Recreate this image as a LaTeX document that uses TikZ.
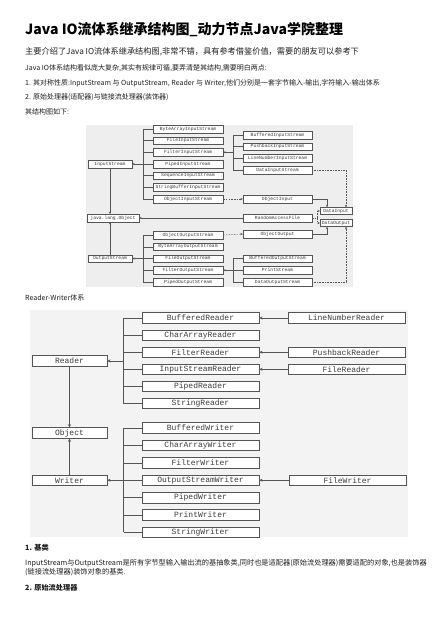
\documentclass[tikz,border=0pt]{standalone}
\usepackage{fontspec}
\setmainfont{Noto Sans CJK SC}
\newfontfamily\boxfont{Liberation Mono}
\usetikzlibrary{arrows.meta,positioning}
\definecolor{ink}{RGB}{30,30,30}
\definecolor{edge}{RGB}{85,85,85}
\definecolor{boxink}{RGB}{60,60,60}
\definecolor{panel}{RGB}{238,238,238}
\definecolor{panelb}{RGB}{243,243,243}
\tikzset{
  sm/.style={draw=edge,fill=white,line width=0.4pt,minimum width=70pt,minimum height=7.5pt,inner sep=0pt,text=boxink,font=\boxfont\fontsize{4.7}{5}\selectfont},
  lg/.style={draw=edge,fill=white,line width=0.6pt,minimum width=117pt,minimum height=10.5pt,inner sep=0pt,text=boxink,font=\boxfont\fontsize{8}{9}\selectfont},
  txt/.style={anchor=west,inner sep=0pt,text=ink,font=\fontsize{7}{9}\selectfont},
  ln/.style={draw=edge,line width=0.4pt},
  arr/.style={-{Stealth[length=2.4pt,width=2.2pt]},draw=edge,line width=0.4pt},
  darr/.style={arr,dash pattern=on 1.5pt off 1.2pt},
  barr/.style={-{Stealth[length=3.2pt,width=3pt]},draw=edge,line width=0.6pt}
}
\begin{document}
\begin{tikzpicture}[x=1pt,y=-1pt]
\useasboundingbox (0,0) rectangle (440,620);
% text above
\node[txt,font=\fontsize{14}{16}\selectfont\bfseries,text=black] (ttl) at (25,30) {Java IO流体系继承结构图\_动力节点Java学院整理};
\node[txt,font=\fontsize{8.2}{10}\selectfont] (t1) at (25,52) {主要介绍了Java IO流体系继承结构图,非常不错，具有参考借鉴价值，需要的朋友可以参考下};
\node[txt] (t2) at (25,68) {Java IO体系结构看似庞大复杂,其实有规律可循,要弄清楚其结构,需要明白两点:};
\node[txt] (t3) at (25,83) {1. 其对称性质:InputStream 与 OutputStream, Reader 与 Writer,他们分别是一套字节输入-输出,字符输入-输出体系};
\node[txt] (t4) at (25,97) {2. 原始处理器(适配器)与链接流处理器(装饰器)};
\node[txt] (t5) at (25,112) {其结构图如下:};

% stream panel
\fill[panel] (86,125) rectangle (353,287);
\node[sm,minimum width=44pt] (is) at (110,164) {InputStream};
\node[sm,minimum width=52pt] (jlo) at (113,218) {java.lang.Object};
\node[sm,minimum width=44pt] (os) at (110,258.5) {OutputStream};
\node[sm] (bais) at (188,129) {ByteArrayInputStream};
\node[sm] (fis) at (188,140.7) {FileInputStream};
\node[sm] (fltis) at (188,152.3) {FilterInputStream};
\node[sm] (pis) at (188,164) {PipedInputStream};
\node[sm] (sis) at (188,175.7) {SequenceInputStream};
\node[sm] (sbis) at (188,187.3) {StringBufferInputStream};
\node[sm] (ois) at (188,199) {ObjectInputStream};
\node[sm,minimum width=69pt] (bis) at (277.5,135) {BufferedInputStream};
\node[sm,minimum width=69pt] (pbis) at (277.5,146.7) {PushbackInputStream};
\node[sm,minimum width=69pt] (lnis) at (277.5,158.3) {LineNumberInputStream};
\node[sm,minimum width=69pt] (dis) at (277.5,170) {DataInputStream};
\node[sm,minimum width=69pt] (oi) at (277.5,199) {ObjectInput};
\node[sm,minimum width=69pt] (raf) at (277.5,218) {RandomAccessFile};
\node[sm,minimum width=69pt] (oo) at (277.5,234) {ObjectOutput};
\node[sm,minimum width=32pt,minimum height=7pt] (di) at (336,211) {DataInput};
\node[sm,minimum width=32pt,minimum height=7pt] (dout) at (336,223) {DataOutput};
\node[sm] (oos) at (188,235) {ObjectOutputStream};
\node[sm] (baos) at (188,246.75) {ByteArrayOutputStream};
\node[sm] (fos) at (188,258.5) {FileOutputStream};
\node[sm] (fltos) at (188,270.25) {FilterOutputStream};
\node[sm] (pos) at (188,282) {PipedOutputStream};
\node[sm,minimum width=69pt] (bos) at (277.5,258.5) {BufferedOutputStream};
\node[sm,minimum width=69pt] (ps) at (277.5,270.25) {PrintStream};
\node[sm,minimum width=69pt] (dos) at (277.5,282) {DataOutputStream};
\foreach \c in {bais,fis,fltis,pis,sis,sbis,ois,oos,baos,fos,fltos,pos,bis,pbis,lnis,dis,bos,ps,dos}
  \draw[ln] (\c.west) -- ++(-10,0);
\draw[ln] ([xshift=-10pt]bais.west) -- ([xshift=-10pt]ois.west);
\draw[ln] ([xshift=-10pt]oos.west) -- ([xshift=-10pt]pos.west);
\draw[ln] ([xshift=-10pt]bis.west) -- ([xshift=-10pt]dis.west);
\draw[ln] ([xshift=-10pt]bos.west) -- ([xshift=-10pt]dos.west);
\draw[arr] ([xshift=-10pt]pis.west) -- (is.east);
\draw[arr] ([xshift=-10pt]fos.west) -- (os.east);
\draw[arr] ([xshift=-10pt]bis.west |- fltis.east) -- (fltis.east);
\draw[arr] ([xshift=-10pt]bos.west |- fltos.east) -- (fltos.east);
\draw[arr] (is.south) -- (is.south |- jlo.north);
\draw[arr] (os.north) -- (os.north |- jlo.south);
\draw[arr] (raf.west) -- (jlo.east);
\draw[darr] (ois.east) -- (oi.west);
\draw[darr] (oos.east) -- (oo.west);
\draw[arr] (oi.east) -| ([xshift=-9pt]di.north);
\draw[arr] (oo.east) -| ([xshift=-9pt]dout.south);
\draw[darr] (raf.east) -- ++(5,0) coordinate (rj) |- (di.west);
\draw[darr] (rj) |- (dout.west);
\draw[darr,dash pattern=on 0.8pt off 0.8pt] (dis.east) -| ([xshift=10pt]di.north);
\draw[darr,dash pattern=on 0.8pt off 0.8pt] (dos.east) -| ([xshift=10pt]dout.south);

\node[txt] (t6) at (25,298) {Reader-Writer体系};

% reader / writer panel
\begin{scope}
\clip (30,310) rectangle (408,537);
\fill[panelb] (30,310) rectangle (408,537);
\node[lg,minimum width=75pt] (rd) at (69.5,361) {Reader};
\node[lg,minimum width=75pt] (obj) at (69.5,433) {Object};
\node[lg,minimum width=75pt] (wr) at (69.5,480.2) {Writer};
\node[lg] (br) at (200.5,318) {BufferedReader};
\node[lg] (car) at (200.5,335.1) {CharArrayReader};
\node[lg] (fr) at (200.5,352.2) {FilterReader};
\node[lg] (isr) at (200.5,369.3) {InputStreamReader};
\node[lg] (pr) at (200.5,386.4) {PipedReader};
\node[lg] (sr) at (200.5,403.5) {StringReader};
\node[lg] (lnr) at (346.5,318) {LineNumberReader};
\node[lg] (pbr) at (346.5,352.2) {PushbackReader};
\node[lg] (flr) at (346.5,369.3) {FileReader};
\node[lg] (bw) at (200.5,428) {BufferedWriter};
\node[lg] (caw) at (200.5,445.4) {CharArrayWriter};
\node[lg] (fw) at (200.5,462.8) {FilterWriter};
\node[lg] (osw) at (200.5,480.2) {OutputStreamWriter};
\node[lg] (pw) at (200.5,497.6) {PipedWriter};
\node[lg] (prw) at (200.5,515) {PrintWriter};
\node[lg] (sw) at (200.5,532.4) {StringWriter};
\node[lg] (flw) at (347.5,480.2) {FileWriter};
\foreach \c in {br,car,fr,isr,pr,sr,bw,caw,fw,osw,pw,prw,sw}
  \draw[ln,line width=0.6pt] (\c.west) -- ++(-18,0);
\draw[ln,line width=0.6pt] ([xshift=-18pt]br.west) -- ([xshift=-18pt]sr.west);
\draw[ln,line width=0.6pt] ([xshift=-18pt]bw.west) -- ([xshift=-18pt]sw.west);
\draw[barr] ([xshift=-18pt]br.west |- rd.east) -- (rd.east);
\draw[barr] ([xshift=-18pt]osw.west) -- (wr.east);
\draw[barr] (rd.south) -- (obj.north);
\draw[barr] (wr.north) -- (obj.south);
\draw[barr] (lnr.west) -- (br.east);
\draw[barr] (pbr.west) -- (fr.east);
\draw[barr] (flr.west) -- (isr.east);
\draw[barr] (flw.west) -- (osw.east);
\end{scope}

% text below
\node[txt,font=\fontsize{7.2}{9}\selectfont\bfseries] (h1) at (25,548) {1. 基类};
\node[txt,font=\fontsize{7.2}{9}\selectfont] (t7) at (25,563) {InputStream与OutputStream是所有字节型输入输出流的基抽象类,同时也是适配器(原始流处理器)需要适配的对象,也是装饰器};
\node[txt,font=\fontsize{7.2}{9}\selectfont] (t8) at (25,572) {(链接流处理器)装饰对象的基类.};
\node[txt,font=\fontsize{7.2}{9}\selectfont\bfseries] (h2) at (25,588) {2. 原始流处理器};
\end{tikzpicture}
\end{document}
